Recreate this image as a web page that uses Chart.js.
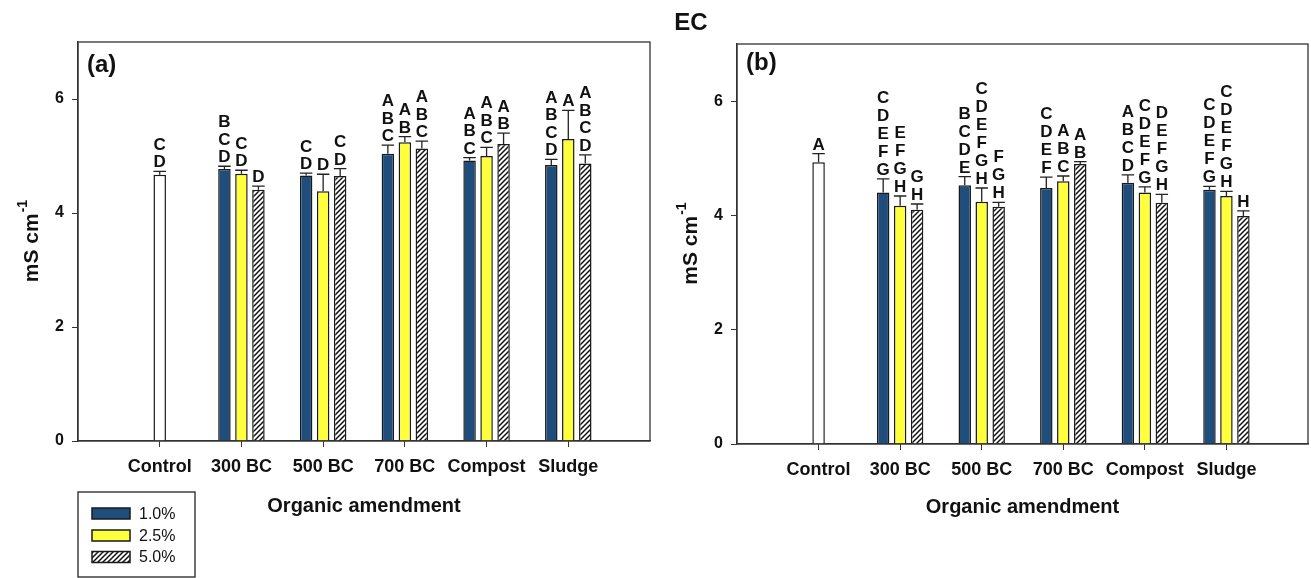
<!DOCTYPE html>
<html>
<head>
<meta charset="utf-8">
<title>EC</title>
<script src="https://cdn.jsdelivr.net/npm/chart.js@4.4.1/dist/chart.umd.min.js"></script>
<style>
  body { margin: 0; background: #fff; }
  #wrap { position: relative; width: 1311px; height: 578px; overflow: hidden; }
  #chartA { position: absolute; left: 0; top: 0; }
  #chartB { position: absolute; left: 660px; top: 0; }
  #title { position: absolute; left: 641px; top: 8px; width: 100px; text-align: center;
           font: bold 24px "Liberation Sans", Arial, sans-serif; line-height: 28px; color: #111; }
</style>
</head>
<body>
<div id="wrap">
  <canvas id="chartA" width="660" height="578"></canvas>
  <canvas id="chartB" width="651" height="578"></canvas>
  <div id="title">EC</div>
</div>
<script>
const categories = ['Control', '300 BC', '500 BC', '700 BC', 'Compost', 'Sludge'];
const rates = ['1.0%', '2.5%', '5.0%'];
const yTicks = [0, 2, 4, 6];

// panel (a)
const controlA = 4.67, controlErrA = 0.06, controlLetA = 'CD';
const a10 = [4.77, 4.66, 5.04, 4.92, 4.84];
const a25 = [4.69, 4.38, 5.24, 5.00, 5.30];
const a50 = [4.41, 4.65, 5.13, 5.21, 4.87];
const a10Err = [0.05, 0.04, 0.15, 0.05, 0.10];
const a25Err = [0.06, 0.30, 0.10, 0.15, 0.50];
const a50Err = [0.06, 0.13, 0.13, 0.19, 0.15];
const a10Let = ['BCD', 'CD', 'ABC', 'ABC', 'ABCD'];
const a25Let = ['CD', 'D', 'AB', 'ABC', 'A'];
const a50Let = ['D', 'CD', 'ABC', 'AB', 'ABCD'];

// panel (b)
const controlB = 4.93, controlErrB = 0.15, controlLetB = 'A';
const b10 = [4.40, 4.53, 4.48, 4.57, 4.45];
const b25 = [4.17, 4.24, 4.60, 4.40, 4.34];
const b50 = [4.10, 4.15, 4.90, 4.22, 3.99];
const b10Err = [0.24, 0.15, 0.19, 0.14, 0.06];
const b25Err = [0.17, 0.24, 0.09, 0.10, 0.08];
const b50Err = [0.10, 0.08, 0.04, 0.15, 0.09];
const b10Let = ['CDEFG', 'BCDE', 'CDEF', 'ABCD', 'CDEFG'];
const b25Let = ['EFGH', 'CDEFGH', 'ABC', 'CDEFG', 'CDEFGH'];
const b50Let = ['GH', 'FGH', 'AB', 'DEFGH', 'H'];

const FONT = '"Liberation Sans", Arial, sans-serif';
Chart.defaults.font.family = FONT;
Chart.defaults.color = '#111';

const navy = '#1f4e7c';
const yellow = '#ffff3c';
const edge = '#1a1a1a';

function hatch() {
    const c = document.createElement('canvas');
    c.width = 5; c.height = 5;
    const g = c.getContext('2d');
    g.fillStyle = '#fff';
    g.fillRect(0, 0, 5, 5);
    g.strokeStyle = '#111';
    g.lineWidth = 1.5;
    g.beginPath();
    g.moveTo(-1, 6); g.lineTo(6, -1);
    g.moveTo(-1, 1); g.lineTo(1, -1);
    g.moveTo(4, 6); g.lineTo(6, 4);
    g.stroke();
    return g.createPattern(c, 'repeat');
}
const hatchFill = hatch();

// control only sits at position 1, treatments at 2..6
function controlData(v) {
    return categories.map((c, i) => ({ x: i + 1, y: i === 0 ? v : null }));
}
function seriesData(vals) {
    return [{ x: 1, y: null }].concat(vals.map((v, i) => ({ x: i + 2, y: v })));
}

function makeDatasets(ctrl, ctrlErr, ctrlLet, s10, s25, s50, e10, e25, e50, l10, l25, l50) {
    const common = { borderColor: edge, borderWidth: 1.5, skipNull: true,
                     categoryPercentage: 0.624, barPercentage: 0.735 };
    return [
        Object.assign({}, common, {
            label: 'Control', data: controlData(ctrl), backgroundColor: '#fff', maxBarThickness: 12.5,
            errors: [ctrlErr], letters: [ctrlLet]
        }),
        Object.assign({}, common, {
            label: rates[0], data: seriesData(s10), backgroundColor: navy,
            errors: [null].concat(e10), letters: [null].concat(l10)
        }),
        Object.assign({}, common, {
            label: rates[1], data: seriesData(s25), backgroundColor: yellow,
            errors: [null].concat(e25), letters: [null].concat(l25)
        }),
        Object.assign({}, common, {
            label: rates[2], data: seriesData(s50), backgroundColor: hatchFill,
            errors: [null].concat(e50), letters: [null].concat(l50)
        })
    ];
}

const errLetters = {
    id: 'errLetters',
    afterDatasetsDraw(chart, args, opts) {
        const ctx = chart.ctx;
        const y = chart.scales.y;
        chart.data.datasets.forEach((ds, di) => {
            const meta = chart.getDatasetMeta(di);
            meta.data.forEach((bar, i) => {
                const v = ds.data[i].y;
                if (v == null) return;
                const top = y.getPixelForValue(v + ds.errors[i]);
                const half = bar.width / 2;
                ctx.save();
                ctx.strokeStyle = '#222';
                ctx.lineWidth = 1.3;
                ctx.beginPath();
                ctx.moveTo(bar.x, bar.y);
                ctx.lineTo(bar.x, top);
                ctx.moveTo(bar.x - half, top);
                ctx.lineTo(bar.x + half, top);
                ctx.stroke();
                ctx.fillStyle = '#111';
                ctx.font = 'bold 17px ' + FONT;
                ctx.textAlign = 'center';
                ctx.textBaseline = 'alphabetic';
                ds.letters[i].split('').reverse().forEach((ch, k) => {
                    ctx.fillText(ch, bar.x, top - 4 - k * opts.gap);
                });
                ctx.restore();
            });
        });
    }
};

const decor = {
    id: 'decor',
    afterDraw(chart, args, opts) {
        const ctx = chart.ctx;
        const a = chart.chartArea;
        ctx.save();
        ctx.strokeStyle = '#333';
        ctx.lineWidth = 1.3;
        ctx.strokeRect(a.left, a.top, a.right - a.left, a.bottom - a.top);
        ctx.fillStyle = '#111';
        ctx.font = 'bold 24px ' + FONT;
        ctx.textBaseline = 'middle';
        ctx.textAlign = 'left';
        ctx.fillText(opts.tag, a.left + 9, a.top + opts.tagDy);

        // y axis title with superscript
        const main = 'mS cm', sup = '-1';
        ctx.font = 'bold 21px ' + FONT;
        const w1 = ctx.measureText(main).width;
        ctx.font = 'bold 14px ' + FONT;
        const w2 = ctx.measureText(sup).width;
        ctx.translate(a.left - 46, (a.top + a.bottom) / 2);
        ctx.rotate(-Math.PI / 2);
        const start = -(w1 + w2) / 2;
        ctx.font = 'bold 21px ' + FONT;
        ctx.fillText(main, start, 0);
        ctx.font = 'bold 14px ' + FONT;
        ctx.fillText(sup, start + w1 + 1, -9);
        ctx.restore();
    }
};

const boxLegend = {
    id: 'boxLegend',
    afterDraw(chart) {
        const ctx = chart.ctx;
        ctx.save();
        ctx.strokeStyle = '#222';
        ctx.lineWidth = 1.3;
        ctx.strokeRect(78, 492, 117, 85);
        const rows = [513.5, 535.5, 557];
        chart.data.datasets.slice(1).forEach((ds, k) => {
            ctx.fillStyle = ds.backgroundColor;
            ctx.fillRect(92, rows[k] - 5.5, 38, 11);
            ctx.strokeStyle = edge;
            ctx.lineWidth = 1.5;
            ctx.strokeRect(92, rows[k] - 5.5, 38, 11);
            ctx.fillStyle = '#111';
            ctx.font = '16px ' + FONT;
            ctx.textBaseline = 'middle';
            ctx.textAlign = 'left';
            ctx.fillText(ds.label, 139, rows[k] + 1);
        });
        ctx.restore();
    }
};

function makeChart(id, datasets, cfg) {
    const plugins = [errLetters, decor];
    if (cfg.legend) plugins.push(boxLegend);
    return new Chart(document.getElementById(id), {
        type: 'bar',
        data: { datasets: datasets },
        plugins: plugins,
        options: {
            responsive: false,
            animation: false,
            layout: { padding: { top: cfg.top, right: cfg.right, left: 0, bottom: 0 } },
            plugins: {
                legend: { display: false },
                tooltip: { enabled: false },
                errLetters: { gap: cfg.gap },
                decor: { tag: cfg.tag, tagDy: cfg.tagDy }
            },
            scales: {
                x: {
                    type: 'linear',
                    offset: false,
                    min: 0,
                    max: categories.length + 1,
                    afterBuildTicks: (s) => { s.ticks = categories.map((c, i) => ({ value: i + 1 })); },
                    afterFit: (s) => { s.height = cfg.xh; },
                    ticks: {
                        autoSkip: false, maxRotation: 0, padding: 9,
                        font: { size: 18, weight: 'bold' }, color: '#111',
                        callback: (v) => categories[v - 1]
                    },
                    grid: { offset: false, drawOnChartArea: false, drawTicks: true, tickLength: 6, color: '#333' },
                    border: { color: '#333', width: 1.3 },
                    title: {
                        display: true, text: 'Organic amendment', color: '#111',
                        font: { size: 20, weight: 'bold' }, padding: { top: 0, bottom: cfg.titlePad }
                    }
                },
                y: {
                    min: 0,
                    max: 7,
                    afterBuildTicks: (s) => { s.ticks = yTicks.map(v => ({ value: v })); },
                    afterFit: (s) => { s.width = cfg.yw; },
                    ticks: { padding: 8, font: { size: 16, weight: 'bold' }, color: '#111' },
                    grid: { drawOnChartArea: false, drawTicks: true, tickLength: 6, color: '#333' },
                    border: { color: '#333', width: 1.3 }
                }
            }
        }
    });
}

makeChart('chartA',
    makeDatasets(controlA, controlErrA, controlLetA, a10, a25, a50, a10Err, a25Err, a50Err, a10Let, a25Let, a50Let),
    { top: 42, right: 10, xh: 137, yw: 78, titlePad: 60, gap: 17.5, tag: '(a)', tagDy: 23, legend: true });

makeChart('chartB',
    makeDatasets(controlB, controlErrB, controlLetB, b10, b25, b50, b10Err, b25Err, b50Err, b10Let, b25Let, b50Let),
    { top: 44, right: 3, xh: 134, yw: 77, titlePad: 59, gap: 18, tag: '(b)', tagDy: 19, legend: false });
</script>
</body>
</html>
